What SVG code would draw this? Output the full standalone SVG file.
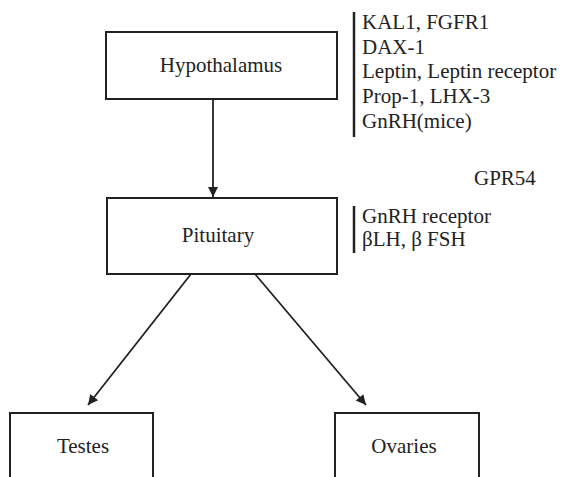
<svg xmlns="http://www.w3.org/2000/svg" width="562" height="477" viewBox="0 0 562 477">
<style>
.box{fill:#fff;stroke:#222;stroke-width:2}
text{font-family:'Liberation Serif','DejaVu Serif',serif;font-size:21px;fill:#222}
.c{text-anchor:middle}
.edge{stroke:#222;stroke-width:1.8;fill:none;marker-end:url(#ah)}
.bar{stroke:#222;stroke-width:2.5}
</style>
<defs>
<marker id="ah" viewBox="0 0 10 10" refX="10" refY="5" markerWidth="12" markerHeight="10" markerUnits="userSpaceOnUse" orient="auto">
<path d="M0,0 L10,5 L0,10 Z" fill="#222"/>
</marker>
</defs>
<g id="connectors">
<line class="edge" x1="213" y1="99" x2="213" y2="197"/>
<line class="edge" x1="191" y1="274" x2="88" y2="405"/>
<line class="edge" x1="255" y1="274" x2="366" y2="405"/>
</g>
<g id="hypothalamus">
<rect class="box" x="106" y="32" width="231" height="67"/>
<text class="c" x="221" y="72">Hypothalamus</text>
</g>
<g id="pituitary">
<rect class="box" x="107" y="198" width="230" height="76"/>
<text class="c" x="218" y="242">Pituitary</text>
</g>
<g id="testes">
<rect class="box" x="10" y="413" width="143" height="80"/>
<text class="c" x="83" y="453">Testes</text>
</g>
<g id="ovaries">
<rect class="box" x="335" y="413" width="144" height="80"/>
<text class="c" x="404" y="453">Ovaries</text>
</g>
<g id="hypothalamus-genes">
<line class="bar" x1="354" y1="12" x2="354" y2="137"/>
<text x="362" y="29">KAL1, FGFR1</text>
<text x="362" y="54">DAX-1</text>
<text x="362" y="78">Leptin, Leptin receptor</text>
<text x="362" y="103">Prop-1, LHX-3</text>
<text x="362" y="128">GnRH(mice)</text>
</g>
<text x="474" y="185">GPR54</text>
<g id="pituitary-genes">
<line class="bar" x1="354" y1="206" x2="354" y2="253"/>
<text x="362" y="223">GnRH receptor</text>
<text x="362" y="246">βLH, β FSH</text>
</g>
</svg>
